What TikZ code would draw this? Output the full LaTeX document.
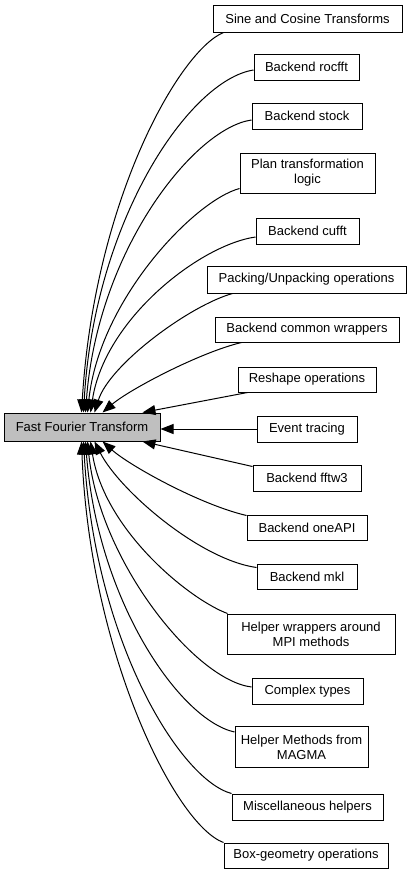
\documentclass[tikz,border=0pt]{standalone}
\usepackage{fontspec}
\setmainfont{Liberation Sans}
\usetikzlibrary{arrows.meta,calc}
\definecolor{mainfill}{HTML}{BFBFBF}
\begin{document}
\begin{tikzpicture}[x=1pt,y=-1pt,
  box/.style={draw=black,line width=1pt,rectangle,inner sep=0pt,align=center,
    font=\fontsize{13}{15}\selectfont},
  edge/.style={line width=1pt,draw=black,-{Triangle[length=13pt,width=10pt]}}]
\useasboundingbox (0,0) rectangle (412,873);
\node[box,fill=mainfill,minimum width=156pt,minimum height=28pt] (main) at (82,427) {Fast Fourier Transform};
\node[box,minimum width=189pt,minimum height=27pt] (sine) at (307.5,18.5) {Sine and Cosine Transforms};
\node[box,minimum width=105pt,minimum height=26pt] (rocfft) at (306.5,67) {Backend rocfft};
\node[box,minimum width=110pt,minimum height=26pt] (stock) at (307,116) {Backend stock};
\node[box,minimum width=135pt,minimum height=40pt] (plan) at (307.5,173) {Plan transformation\\logic};
\node[box,minimum width=103pt,minimum height=26pt] (cufft) at (307.5,231) {Backend cufft};
\node[box,minimum width=199pt,minimum height=27pt] (packing) at (306.5,279.5) {Packing/Unpacking operations};
\node[box,minimum width=184pt,minimum height=25pt] (common) at (307,329.5) {Backend common wrappers};
\node[box,minimum width=138pt,minimum height=25pt] (reshape) at (307,379.5) {Reshape operations};
\node[box,minimum width=100pt,minimum height=26pt] (event) at (307,429) {Event tracing};
\node[box,minimum width=108pt,minimum height=26pt] (fftw) at (307,478) {Backend fftw3};
\node[box,minimum width=120pt,minimum height=25pt] (oneapi) at (307,527.5) {Backend oneAPI};
\node[box,minimum width=100pt,minimum height=25pt] (mkl) at (307,576.5) {Backend mkl};
\node[box,minimum width=168pt,minimum height=40pt] (mpi) at (311,634) {Helper wrappers around\\MPI methods};
\node[box,minimum width=111pt,minimum height=26pt] (complex) at (307.5,691) {Complex types};
\node[box,minimum width=133pt,minimum height=41pt] (magma) at (301.5,747) {Helper Methods from\\MAGMA};
\node[box,minimum width=151pt,minimum height=26pt] (misc) at (307.5,807) {Miscellaneous helpers};
\node[box,minimum width=164pt,minimum height=25pt] (boxgeo) at (306,855.5) {Box-geometry operations};
% upper edges
\draw[edge] ($(sine.south west)+(11,0)$) .. controls +(-44,18) and +(13,-213) .. ($(main.north west)+(78,0)$);
\draw[edge] ($(rocfft.west)+(0,3)$) .. controls +(-64,10) and +(11,-193) .. ($(main.north west)+(80,0)$);
\draw[edge] ($(stock.west)+(0,4)$) .. controls +(-57,8) and +(12,-163) .. ($(main.north west)+(82,0)$);
\draw[edge] ($(plan.south west)+(0,-5)$) .. controls +(-45,12) and +(12,-113) .. ($(main.north west)+(84,0)$);
\draw[edge] ($(cufft.west)+(0,6)$) .. controls +(-56,8) and +(14,-93) .. ($(main.north west)+(87,0)$);
\draw[edge] ($(packing.south west)+(26,0)$) .. controls +(-43,12) and +(15,-48) .. ($(main.north west)+(91,0)$);
\draw[edge] ($(common.south west)+(27,0)$) .. controls +(-42,10) and +(27,-23) .. ($(main.north west)+(99,0)$);
\draw[edge] ($(reshape.south west)+(10,0)$) -- ($(main.north west)+(139,0)$);
\draw[edge] (event.west) -- (main.east |- event.west);
% lower edges
\draw[edge] ($(fftw.north west)+(0,2)$) -- ($(main.south west)+(139,0)$);
\draw[edge] ($(oneapi.north west)+(0,1)$) .. controls +(-47,-11) and +(27,24) .. ($(main.south west)+(99,0)$);
\draw[edge] ($(mkl.north west)+(0,4)$) .. controls +(-57,-8) and +(25,49) .. ($(main.south west)+(91,0)$);
\draw[edge] ($(mpi.north west)+(1,0)$) .. controls +(-38,-14) and +(14,89) .. ($(main.south west)+(87,0)$);
\draw[edge] ($(complex.west)+(0,-4)$) .. controls +(-57,-7) and +(12,119) .. ($(main.south west)+(84,0)$);
\draw[edge] ($(magma.north west)+(0,6)$) .. controls +(-55,-12) and +(12,159) .. ($(main.south west)+(82,0)$);
\draw[edge] (misc.north west) .. controls +(-52,-14) and +(11,199) .. ($(main.south west)+(80,0)$);
\draw[edge] (boxgeo.north west) .. controls +(-49,-18) and +(8,209) .. ($(main.south west)+(78,0)$);
\end{tikzpicture}
\end{document}
